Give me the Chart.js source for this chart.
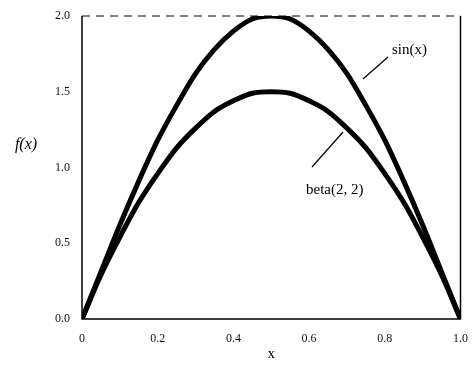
<!DOCTYPE html>
<html>
<head>
<meta charset="utf-8">
<script src="https://cdn.jsdelivr.net/npm/chart.js@4"></script>
<style>
  html, body { margin: 0; padding: 0; background: #fff; }
  #wrap { width: 473px; height: 367px; }
</style>
</head>
<body>
<div id="wrap"><canvas id="chart"></canvas></div>
<script>
// values
const xValues = [0, 0.05, 0.1, 0.15, 0.2, 0.25, 0.3, 0.35, 0.4, 0.45, 0.5,
                 0.55, 0.6, 0.65, 0.7, 0.75, 0.8, 0.85, 0.9, 0.95, 1.0];
const sinValues = [0, 0.31, 0.62, 0.91, 1.18, 1.41, 1.62, 1.78, 1.90, 1.98, 2.0,
                   1.98, 1.90, 1.78, 1.62, 1.41, 1.18, 0.91, 0.62, 0.31, 0];
const betaValues = [0, 0.29, 0.54, 0.77, 0.96, 1.13, 1.26, 1.37, 1.44, 1.49, 1.5,
                    1.49, 1.44, 1.37, 1.26, 1.13, 0.96, 0.77, 0.54, 0.29, 0];
const xTicks = [0, 0.2, 0.4, 0.6, 0.8, 1.0];
const yTicks = [0, 0.5, 1.0, 1.5, 2.0];
const labels = ["sin(x)", "beta(2, 2)"];

const serif = "'Liberation Serif', 'DejaVu Serif', serif";

function toPoints(ys) {
  return xValues.map((x, i) => ({ x: x, y: ys[i] }));
}

// frame + annotations drawn on top
const decor = {
  id: 'decor',
  afterDraw(chart) {
    const ctx = chart.ctx;
    const a = chart.chartArea;
    ctx.save();
    ctx.strokeStyle = '#000';
    ctx.lineWidth = 1.5;
    // left, bottom, right solid
    ctx.beginPath();
    ctx.moveTo(a.left, a.top);
    ctx.lineTo(a.left, a.bottom);
    ctx.lineTo(a.right, a.bottom);
    ctx.lineTo(a.right, a.top);
    ctx.stroke();
    // top dashed
    ctx.setLineDash([8, 6]);
    ctx.lineWidth = 1;
    ctx.beginPath();
    ctx.moveTo(a.left, a.top);
    ctx.lineTo(a.right, a.top);
    ctx.stroke();
    ctx.setLineDash([]);

    // leader lines
    ctx.lineWidth = 1.2;
    ctx.beginPath();
    ctx.moveTo(363, 79);
    ctx.lineTo(388, 57);
    ctx.moveTo(343, 132);
    ctx.lineTo(312, 167);
    ctx.stroke();

    ctx.fillStyle = '#000';
    ctx.font = "15px " + serif;
    ctx.textBaseline = 'middle';
    ctx.textAlign = 'left';
    ctx.fillText(labels[0], 392, 50);
    ctx.fillText(labels[1], 306, 190);

    ctx.font = "italic 16px " + serif;
    ctx.textAlign = 'center';
    ctx.fillText('f(x)', 26, 145);
    ctx.restore();
  }
};

new Chart(document.getElementById('chart'), {
  type: 'line',
  data: {
    datasets: [
      { data: toPoints(sinValues), borderColor: '#000', borderWidth: 5, pointRadius: 0, tension: 0.3, fill: false },
      { data: toPoints(betaValues), borderColor: '#000', borderWidth: 5, pointRadius: 0, tension: 0.3, fill: false }
    ]
  },
  options: {
    responsive: true,
    maintainAspectRatio: false,
    animation: false,
    layout: { padding: { top: 16, right: 11, left: 0, bottom: 0 } },
    plugins: { legend: { display: false }, tooltip: { enabled: false } },
    scales: {
      x: {
        type: 'linear',
        min: 0, max: 1,
        afterBuildTicks: s => { s.ticks = xTicks.map(v => ({ value: v })); },
        afterFit: s => { s.height = 48; },
        grid: { display: false },
        border: { display: false },
        ticks: {
          color: '#111', padding: 5,
          font: { family: serif, size: 12 },
          callback: v => v === 0 ? '0' : v.toFixed(1)
        },
        title: { display: true, text: 'x', color: '#000', font: { family: serif, size: 15 }, padding: { top: 4 } }
      },
      y: {
        min: 0, max: 2,
        afterBuildTicks: s => { s.ticks = yTicks.map(v => ({ value: v })); },
        afterFit: s => { s.width = 82; },
        grid: { display: false },
        border: { display: false },
        ticks: {
          color: '#111', padding: 4,
          font: { family: serif, size: 12 },
          callback: v => v.toFixed(1)
        }
      }
    }
  },
  plugins: [decor]
});
</script>
</body>
</html>
